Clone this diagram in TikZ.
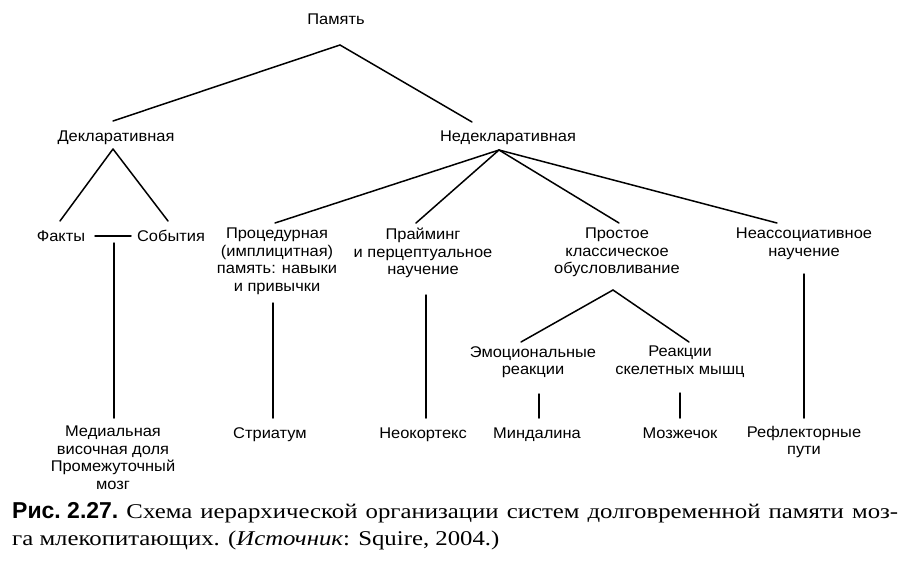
\documentclass[tikz,border=0pt]{standalone}
\usepackage{fontspec}
\setmainfont{Liberation Serif}
\setsansfont{Liberation Sans}
\newfontfamily\diagfont[FakeStretch=1.06]{Liberation Sans}
\newfontfamily\capserif[FakeStretch=1.18]{Liberation Serif}
\usetikzlibrary{calc}
\begin{document}
\begin{tikzpicture}[x=1pt,y=-1pt,
  lbl/.style={font=\diagfont\fontsize{15.5}{17.5}\selectfont, align=center, inner sep=0pt, anchor=north,
    execute at begin node={\rule{0pt}{12pt}}},
  edge/.style={line width=1.5pt, line cap=round},
  captext/.style={inner sep=0pt, anchor=base west}]
\useasboundingbox (0,0) rectangle (900,563);
\fill[white] (0,0) rectangle (900,563);
% nodes (anchored at the top of their first line)
\node[lbl] (mem) at (336,12) {Память};
\node[lbl] (dec) at (116,129) {Декларативная};
\node[lbl] (ndec) at (508,129) {Недекларативная};
\node[lbl] (fact) at (61,229) {Факты};
\node[lbl] (event) at (171,229) {События};
\node[lbl] (med) at (113,426) {Медиальная\\височная доля\\Промежуточный\\мозг};
\node[lbl] (proc) at (277,228) {Процедурная\\(имплицитная)\\память: навыки\\и привычки};
\node[lbl] (prim) at (423,228) {Прайминг\\и перцептуальное\\научение};
\node[lbl] (cls) at (617,228) {Простое\\классическое\\обусловливание};
\node[lbl] (nonas) at (804,228) {Неассоциативное\\научение};
\node[lbl] (str) at (270,426) {Стриатум};
\node[lbl] (neo) at (423,426) {Неокортекс};
\node[lbl] (emo) at (533,346) {Эмоциональные\\реакции};
\node[lbl] (skel) at (680,346) {Реакции\\скелетных мышц};
\node[lbl] (amy) at (537,426) {Миндалина};
\node[lbl] (cer) at (680,426) {Мозжечок};
\node[lbl] (refl) at (804,426) {Рефлекторные\\пути};
% junction points
\coordinate (memJ) at ($(mem.north)+(4,33)$);
\coordinate (decJ) at ($(dec.north)+(-3,20)$);
\coordinate (ndecJ) at ($(ndec.north)+(-9,21)$);
\coordinate (clsJ) at ($(cls.north)+(-4,62)$);
\coordinate (feJ) at ($(fact.north)+(53,14)$);
% connectors
\draw[edge] (memJ) -- ($(dec.north)+(-3,-8)$);
\draw[edge] (memJ) -- ($(ndec.north)+(-36,-7)$);
\draw[edge] (decJ) -- ($(fact.north)+(-1,-8)$);
\draw[edge] (decJ) -- ($(event.north)+(-3,-8)$);
\draw[edge] ($(fact.north)+(34,7)$) -- ($(event.north)+(-40,7)$);
\draw[edge] (feJ) -- ($(med.north)+(1,-8)$);
\draw[edge] (ndecJ) -- ($(proc.north)+(-2,-5)$);
\draw[edge] (ndecJ) -- ($(prim.north)+(-7,-5)$);
\draw[edge] (ndecJ) -- ($(cls.north)+(2,-5)$);
\draw[edge] (ndecJ) -- ($(nonas.north)+(-27,-5)$);
\draw[edge] ($(proc.north)+(-4,75)$) -- ($(str.north)+(3,-8)$);
\draw[edge] ($(prim.north)+(3,67)$) -- ($(neo.north)+(3,-8)$);
\draw[edge] (clsJ) -- ($(emo.north)+(-12,-4)$);
\draw[edge] (clsJ) -- ($(skel.north)+(9,-4)$);
\draw[edge] ($(emo.north)+(6,48)$) -- ($(amy.north)+(2,-8)$);
\draw[edge] ($(skel.north)+(0,47)$) -- ($(cer.north)+(0,-8)$);
\draw[edge] ($(nonas.north)+(0,46)$) -- ($(refl.north)+(0,-8)$);
% caption
\node[captext] (cap1) at (12,518) {\capserif\fontsize{21}{28}\selectfont\makebox[886pt][s]{\mbox{\sffamily\bfseries\fontsize{23}{28}\selectfont Рис.\ 2.27.} Схема иерархической организации систем долговременной памяти моз-}};
\node[captext] (cap2) at (12,545) {\capserif\fontsize{21}{28}\selectfont га млекопитающих. (\textit{Источник}: Squire, 2004.)};
\end{tikzpicture}
\end{document}
